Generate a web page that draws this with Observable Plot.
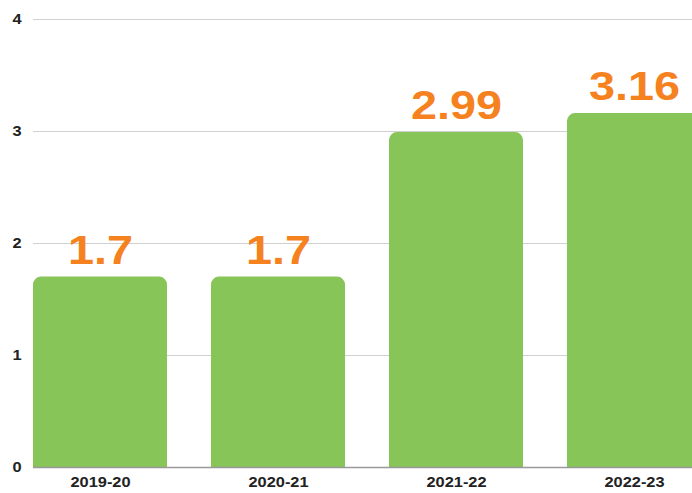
<!DOCTYPE html>
<html>
<head>
<meta charset="utf-8">
<script src="https://cdn.jsdelivr.net/npm/d3@7"></script>
<script src="https://cdn.jsdelivr.net/npm/@observablehq/plot@0.6"></script>
<style>
  html, body { margin: 0; padding: 0; background: #fff; overflow: hidden; }
  #chart svg { overflow: hidden; }
</style>
</head>
<body>
<div id="chart"></div>
<script>
const years = ["2019-20", "2020-21", "2021-22", "2022-23"];
const values = [1.7, 1.7, 2.99, 3.16];
const yTicks = [0, 1, 2, 3, 4];

const data = years.map((year, i) => ({year, value: values[i], half: values[i] / 2}));

const chart = Plot.plot({
  width: 692,
  height: 493,
  marginLeft: 33,
  marginRight: -10,
  marginTop: 19,
  marginBottom: 26,
  style: {fontFamily: "'Liberation Sans', Arial, sans-serif", background: "#fff", overflow: "hidden"},
  x: {domain: years, paddingInner: 0.25, paddingOuter: 0, align: 0, label: null},
  y: {domain: [0, 4], label: null},
  marks: [
    Plot.ruleY(yTicks.filter(d => d > 0), {stroke: "#d0d0d0", strokeWidth: 1.2}),
    Plot.barY(data, {x: "year", y: "value", fill: "#88C559", rx: 8}),
    Plot.barY(data, {x: "year", y: "half", fill: "#88C559"}),
    Plot.ruleY([0], {stroke: "#999", strokeWidth: 1.5}),
    Plot.text(data, {x: "year", y: "value", text: d => String(d.value), dy: -26, fill: "#F5821F", fontSize: 40, fontWeight: "bold"}),
    Plot.axisY(yTicks, {tickSize: 0, tickPadding: 12, tickFormat: d3.format("d"), fontSize: 14, fontWeight: "bold", fill: "#222", textAnchor: "end"}),
    Plot.axisX({tickSize: 0, tickPadding: 10, fontSize: 14, fontWeight: "bold", fill: "#222"})
  ]
});
// widen glyphs horizontally about each text's anchor point
chart.querySelectorAll("text").forEach(el => {
  const t = el.getAttribute("transform") || "";
  el.setAttribute("transform", `${t} scale(1.17,1)`);
});
document.getElementById("chart").appendChild(chart);
</script>
</body>
</html>
